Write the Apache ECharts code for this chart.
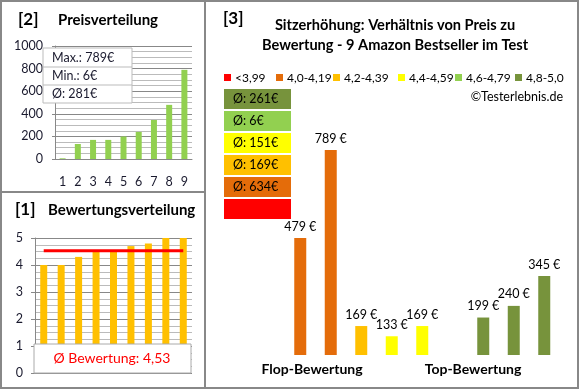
<!DOCTYPE html>
<html><head><meta charset="utf-8">
<script src="https://cdn.jsdelivr.net/npm/echarts@6/dist/echarts.min.js"></script>
<style>html,body{margin:0;padding:0;background:#fff}#c{width:580px;height:390px}</style>
</head><body><div id="c"></div>
<script>
// ---- data ----
const rankCategories = ['1','2','3','4','5','6','7','8','9'];
const sortedPrices = [6,133,169,169,199,240,345,479,789];
const priceTicks = [0,200,400,600,800,1000];
const ratings = [4.0,4.0,4.3,4.5,4.5,4.7,4.8,5.0,5.0];
const avgRating = 4.53;
const priceStats = ['Max.: 789€','Min.: 6€','Ø: 281€'];
const productCategories = ['p1','p2','p3','p4','p5','p6','p7','p8','p9'];
const pricesByRating = [479,789,169,133,169,6,199,240,345];
const ratingClassOfProduct = [1,1,2,3,3,4,5,5,5];
const ratingClasses = ['<3,99','4,0-4,19','4,2-4,39','4,4-4,59','4,6-4,79','4,8-5,0'];
const classAverages = ['Ø: 261€','Ø: 6€','Ø: 151€','Ø: 169€','Ø: 634€',''];
const classAverageOrder = [5,4,3,2,1,0];
const groupLabels = ['Flop-Bewertung','Top-Bewertung'];

// ---- styles ----
const F = 'Lato, "Noto Sans", sans-serif';
const classColors = ['#FF0000','#E46C0A','#FFC000','#FFFF00','#92D050','#77933C'];
const txt = '#1a1a2e';

const chart = echarts.init(document.getElementById('c'), null, {renderer:'canvas'});

const graphics = [];
// borders
graphics.push({type:'rect', shape:{x:1,y:1,width:577,height:387}, style:{fill:'none',stroke:'#888',lineWidth:2}, z:200});
graphics.push({type:'line', shape:{x1:205,y1:1,x2:205,y2:388}, style:{stroke:'#888',lineWidth:2}, z:200});
graphics.push({type:'line', shape:{x1:1,y1:192,x2:205,y2:192}, style:{stroke:'#888',lineWidth:2}, z:200});
// titles
const T = (text,x,y,size,weight,align,color) => ({type:'text', x:x, y:y, z:150,
  style:{text:text, font:(weight||'normal')+' '+size+'px '+F, fill:color||'#000', textAlign:align||'left', textVerticalAlign:'middle'}});
graphics.push(T('[2]',18,20,17,'bold'));
graphics.push(T('Preisverteilung',58,20,15,'bold'));
graphics.push(T('[1]',15,210,17,'bold'));
graphics.push(T('Bewertungsverteilung',48,210,15,'bold'));
graphics.push(T('[3]',223,19,17,'bold'));
graphics.push(T('Sitzerhöhung: Verhältnis von Preis zu',395,25,14.6,'bold','center'));
graphics.push(T('Bewertung - 9 Amazon Bestseller im Test',395,45,14.6,'bold','center'));
// price stats box
graphics.push({type:'rect', shape:{x:43,y:48,width:89,height:55}, style:{fill:'#fff',stroke:'#bbb',lineWidth:1}, z:140});
graphics.push({type:'line', shape:{x1:43,y1:67,x2:132,y2:67}, style:{stroke:'#bbb',lineWidth:1}, z:141});
graphics.push({type:'line', shape:{x1:43,y1:85,x2:132,y2:85}, style:{stroke:'#bbb',lineWidth:1}, z:141});
const statY = [58,76,94];
priceStats.forEach((s,i)=>graphics.push(T(s,52,statY[i],12.5,'normal','left',txt)));
// rating average box
graphics.push({type:'rect', shape:{x:34,y:344,width:157,height:29}, style:{fill:'#fff',stroke:'#aaa',lineWidth:1}, z:140});
graphics.push(T('Ø Bewertung: ' + String(avgRating).replace('.',','),112,358,14,'normal','center','#FF0000'));
// legend
const legX = [224,276,333,398,455,515];
ratingClasses.forEach((c,i)=>{
  graphics.push({type:'rect', shape:{x:legX[i],y:74,width:7,height:7}, style:{fill:classColors[i]}, z:150});
  graphics.push(T(c,legX[i]+11,78,12,'normal','left','#000'));
});
graphics.push(T('©Testerlebnis.de',563,97,12.5,'normal','right','#000'));
// class average boxes
classAverageOrder.forEach((ci,k)=>{
  const y = 89 + k*22;
  graphics.push({type:'rect', shape:{x:224,y:y,width:67,height:20}, style:{fill:classColors[ci]}, z:150});
  graphics.push(T(classAverages[k],233,y+10,12.5,'normal','left','#000'));
});
// group labels
graphics.push(T(groupLabels[0],312,369,14,'bold','center','#000'));
graphics.push(T(groupLabels[1],473,369,14,'bold','center','#000'));

const option = {
  animation:false,
  backgroundColor:'#fff',
  textStyle:{fontFamily:F},
  grid:[
    {left:55, top:46, width:137, height:113},
    {left:35, top:238, width:157, height:135},
    {left:285, top:110, width:274.5, height:245}
  ],
  xAxis:[
    {gridIndex:0, type:'category', data:rankCategories,
     axisLine:{lineStyle:{color:'#888'}}, axisTick:{show:false},
     axisLabel:{color:txt, fontSize:12.5, margin:16, fontFamily:F}},
    {gridIndex:1, type:'category', data:rankCategories,
     axisLine:{show:false}, axisTick:{show:false}, axisLabel:{show:false}},
    {gridIndex:2, type:'category', data:productCategories,
     axisLine:{show:false}, axisTick:{show:false}, axisLabel:{show:false}}
  ],
  yAxis:[
    {gridIndex:0, type:'value', min:priceTicks[0], max:priceTicks[priceTicks.length-1], interval:priceTicks[1]-priceTicks[0],
     axisLine:{show:true, lineStyle:{color:'#888'}}, axisTick:{show:true, length:3, lineStyle:{color:'#888'}},
     axisLabel:{color:txt, fontSize:12.5, margin:12, fontFamily:F, formatter:(v)=>String(v)},
     splitLine:{lineStyle:{color:'#888'}},
     minorTick:{show:false, splitNumber:4},
     minorSplitLine:{show:true, lineStyle:{color:'#bbb'}}},
    {gridIndex:1, type:'value', min:0, max:5, interval:1,
     axisLine:{show:true, lineStyle:{color:'#888'}}, axisTick:{show:true, length:4, lineStyle:{color:'#888'}},
     axisLabel:{color:txt, fontSize:12.5, margin:12, fontFamily:F},
     splitLine:{lineStyle:{color:'#888'}},
     minorTick:{show:false, splitNumber:4},
     minorSplitLine:{show:true, lineStyle:{color:'#bbb'}}},
    {gridIndex:2, type:'value', min:67, max:930, show:false, splitLine:{show:false}}
  ],
  series:[
    {type:'bar', xAxisIndex:0, yAxisIndex:0, data:sortedPrices, barWidth:6,
     itemStyle:{color:'#92D050'}},
    {type:'bar', xAxisIndex:1, yAxisIndex:1, data:ratings, barWidth:7,
     itemStyle:{color:'#FFC000'}},
    {type:'line', xAxisIndex:1, yAxisIndex:1, data:ratings.map(()=>avgRating), symbol:'none',
     lineStyle:{color:'#FF0000', width:3}, z:5},
    {type:'bar', xAxisIndex:2, yAxisIndex:2, barWidth:12,
     data:pricesByRating.map((v,i)=>({value:v, itemStyle:{color:classColors[ratingClassOfProduct[i]]},
       label:{show: v>67}})),
     label:{show:true, position:'top', distance:5, formatter:'{c} €', color:'#000', fontSize:12.5, fontFamily:F}}
  ],
  graphic:graphics
};
chart.setOption(option);
</script></body></html>
